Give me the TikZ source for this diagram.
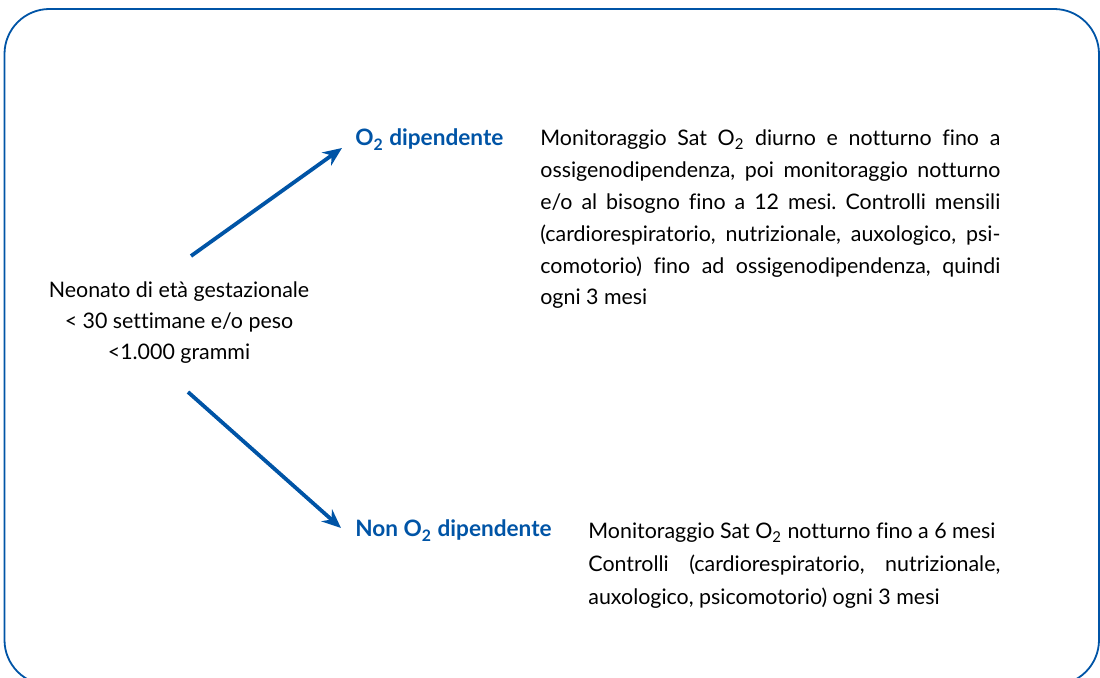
\documentclass[tikz,border=0pt]{standalone}
\usepackage{fontspec}
\setmainfont{Lato}[Ligatures=CommonOff]
\usetikzlibrary{arrows.meta, positioning}
\definecolor{boxblue}{RGB}{0,84,166}
\frenchspacing

\begin{document}
\begin{tikzpicture}[x=0.5pt, y=-0.5pt,
  every node/.style={inner sep=0pt, font=\fontsize{10.7}{16}\selectfont},
  branch/.style={anchor=base west, text=boxblue, font=\fontsize{11.3}{16}\selectfont\bfseries},
  descr/.style={anchor=base west, align=justify},
  flow/.style={-{Stealth[length=9.5pt, width=8pt]}, line width=1.9pt, boxblue}]

\useasboundingbox (0,0) rectangle (1100,678);
\draw[boxblue, line width=0.9pt, rounded corners=22.5pt] (4.5,9) rectangle (1099,685);

% starting condition
\node[anchor=base, align=center, font=\fontsize{10.7}{15.5}\selectfont] (neonato) at (179,360)
  {Neonato di età gestazionale\\ < 30 settimane e/o peso\\ <1.000 grammi};

% the two branches
\node[branch] (dip) at (355,146) {O\textsubscript{2} dipendente};
\node[branch] (nondip) at (355,537) {Non O\textsubscript{2} dipendente};

\node[descr, text width=230pt, font=\fontsize{10.7}{15.9}\selectfont] (dipnote) at (540,146)
  {Monitoraggio Sat O\textsubscript{2} diurno e notturno fino a\linebreak
   ossigenodipendenza, poi monitoraggio notturno\linebreak
   e/o al bisogno fino a 12 mesi. Controlli mensili\linebreak
   (cardiorespiratorio, nutrizionale, auxologico, psi-\linebreak
   comotorio) fino ad ossigenodipendenza, quindi\linebreak
   ogni 3 mesi};
\node[descr, text width=206pt, font=\fontsize{10.7}{16.5}\selectfont] (nondipnote) at (588,539)
  {Monitoraggio Sat O\textsubscript{2} notturno fino a 6 mesi\\
   Controlli (cardiorespiratorio, nutrizionale,\linebreak
   auxologico, psicomotorio) ogni 3 mesi};

% arrows
\coordinate (up tail) at (191,256);
\coordinate (up tip) at (342,148);
\coordinate (down tail) at (188,392);
\coordinate (down tip) at (341,528);
\draw[flow] (up tail) -- (up tip);
\draw[flow] (down tail) -- (down tip);
\end{tikzpicture}
\end{document}
